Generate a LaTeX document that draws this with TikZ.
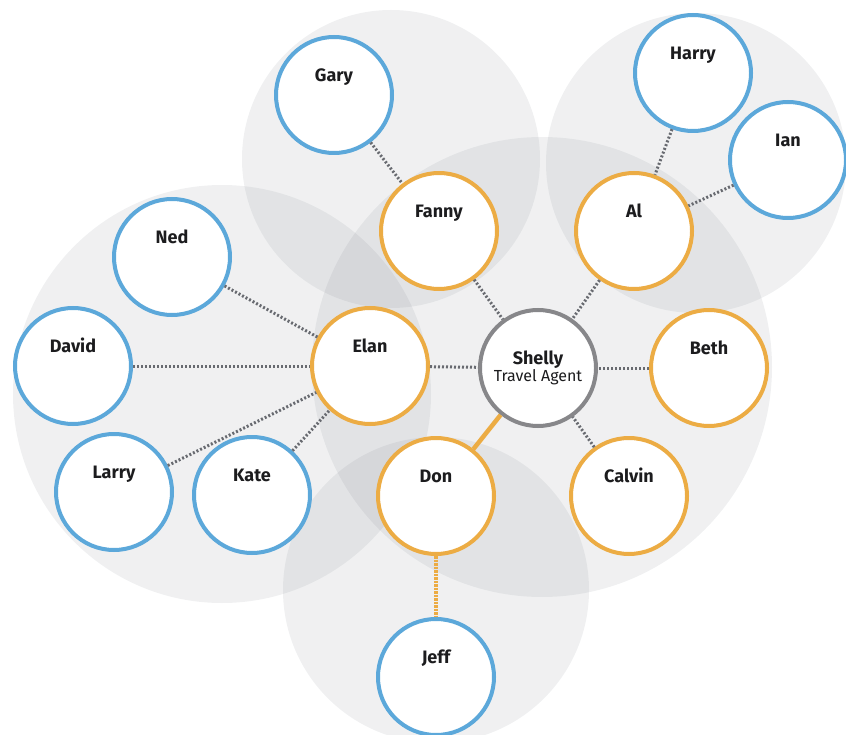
\documentclass[tikz,border=0pt]{standalone}
\usepackage{fontspec}
\setsansfont{Fira Sans}
\definecolor{palblue}{RGB}{92,168,218}
\definecolor{huborange}{RGB}{236,172,68}
\definecolor{agentgray}{RGB}{135,135,138}
\definecolor{linkgray}{RGB}{104,106,112}
\definecolor{bgshade}{RGB}{115,120,130}
\definecolor{inkdark}{RGB}{28,28,30}

\begin{document}
\begin{tikzpicture}[x=1pt, y=-1pt, font=\sffamily\fontsize{18}{20}\selectfont\bfseries, text=inkdark,
      bg/.style={fill=bgshade, fill opacity=0.11},
      ring/.style={circle, draw, fill=white, line width=4pt, minimum size=116pt, inner sep=0pt},
      pal/.style={ring, draw=palblue, text height=13pt, text depth=40pt},
      hub/.style={ring, draw=huborange, text height=13pt, text depth=40pt},
      lnk/.style={draw=linkgray, line width=3pt, dash pattern=on 2pt off 2pt},
      hot/.style={draw=huborange, line width=4.5pt}]
    \useasboundingbox (0,0) rectangle (846,735);
    \fill[bg] (391,159) circle[radius=149pt];
    \fill[bg] (696,163) circle[radius=150pt];
    \fill[bg] (222,394) circle[radius=209pt];
    \fill[bg] (542,367) circle[radius=230pt];
    \fill[bg] (436,590) circle[radius=153pt];
    \node[ring, draw=agentgray, align=center] (shelly) at (538,368)
      {Shelly\\[-3pt]{\mdseries\fontsize{16}{18}\selectfont Travel Agent}};
    \node[hub] (fanny)  at (439,231) {Fanny};
    \node[hub] (al)     at (634,231) {Al};
    \node[hub] (elan)   at (370,366) {Elan};
    \node[hub] (beth)   at (709,368) {Beth};
    \node[hub] (don)    at (436,496) {Don};
    \node[hub] (calvin) at (629,496) {Calvin};
    \node[pal] (gary)   at (334,95)  {Gary};
    \node[pal] (harry)  at (693,73)  {Harry};
    \node[pal] (ian)    at (788,160) {Ian};
    \node[pal] (ned)    at (172,257) {Ned};
    \node[pal] (david)  at (73,366)  {David};
    \node[pal] (larry)  at (114,492) {Larry};
    \node[pal] (kate)   at (252,495) {Kate};
    \node[pal] (jeff)   at (436,677) {Jeff};
    \draw[lnk] (gary)--(fanny);
    \draw[lnk] (harry)--(al);
    \draw[lnk] (ian)--(al);
    \draw[lnk] (fanny)--(shelly);
    \draw[lnk] (al)--(shelly);
    \draw[lnk] (elan)--(shelly);
    \draw[lnk] (beth)--(shelly);
    \draw[lnk] (calvin)--(shelly);
    \draw[lnk] (ned)--(elan);
    \draw[lnk] (david)--(elan);
    \draw[lnk] (larry)--(elan);
    \draw[lnk] (kate)--(elan);
    \draw[hot] (shelly)--(don);
    \draw[hot, dash pattern=on 2.5pt off 1pt] (don)--(jeff);
  \end{tikzpicture}
\end{document}
